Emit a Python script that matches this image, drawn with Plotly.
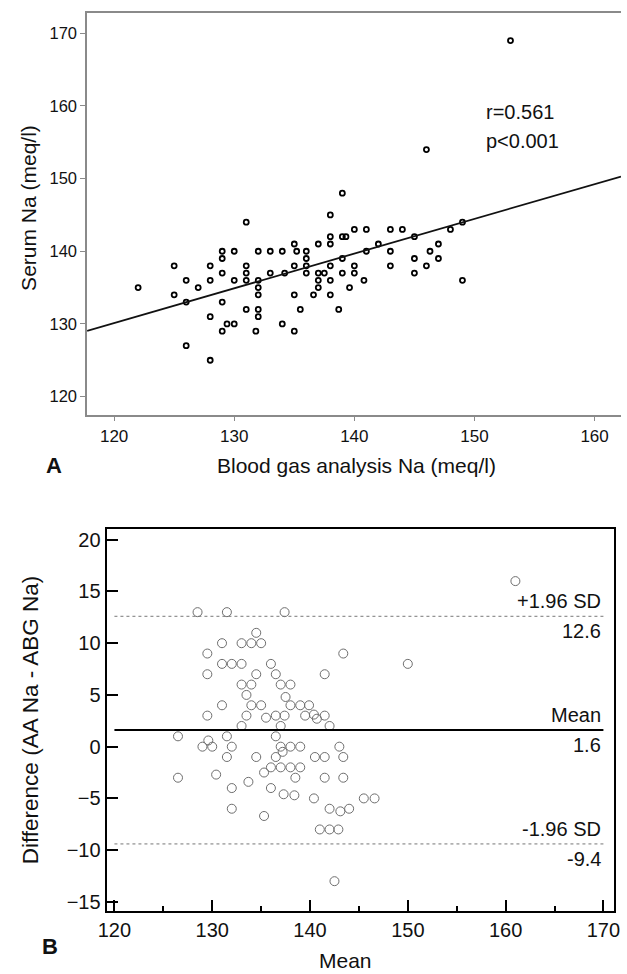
import plotly.graph_objects as go

# panel A: blood gas analyser Na (x) vs serum Na (y), meq/l
abg_na = [131, 135, 137, 129, 130, 132, 133, 134, 135.2, 136, 129, 136,
          125, 128, 131, 135, 136, 129, 131, 133, 134.2, 136, 137, 137.5,
          126, 128, 130, 131, 132, 137, 122, 127, 132, 137, 125, 132, 135, 136.6,
          126, 129, 131, 132, 135.5, 128, 132, 129.4, 130, 134, 129, 131.8, 135,
          126, 128,
          139, 138, 149, 140, 141, 143, 144, 148, 138, 139, 139.3, 145,
          138, 142, 147, 141, 143, 146.3, 139, 145, 147, 138, 140, 143, 146,
          139, 140, 145, 138, 140.8, 149, 139.6, 138, 138.7,
          146, 153]
serum_na = [144, 141, 141, 140, 140, 140, 140, 140, 140, 140, 139, 139,
            138, 138, 138, 138, 138, 137, 137, 137, 137, 137, 137, 137,
            136, 136, 136, 136, 136, 136, 135, 135, 135, 135, 134, 134, 134, 134,
            133, 133, 132, 132, 132, 131, 131, 130, 130, 130, 129, 129, 129,
            127, 125,
            148, 145, 144, 143, 143, 143, 143, 143, 142, 142, 142, 142,
            141, 141, 141, 140, 140, 140, 139, 139, 139, 138, 138, 138, 138,
            137, 137, 137, 136, 136, 136, 135, 134, 132,
            154, 169]
fit_intercept = 72.76
fit_slope = 0.478
r_text = "r=0.561"
p_text = "p<0.001"

# panel B: Bland-Altman, mean vs difference (AA Na - ABG Na)
ba_mean = [128.5, 131.5, 137.4, 134.5, 131, 133, 134, 135, 129.5, 143.4,
           131, 132, 133, 136, 150, 129.5, 134.5, 136.5, 141.5,
           133, 134, 137, 138, 133.5, 137.5,
           131, 134, 135, 138, 139, 139.9,
           129.5, 133.5, 136.5, 137.4, 139.5, 140.4, 140.7, 141.5, 135.5,
           133, 137, 142, 126.5, 131.5, 136.5, 129.6,
           129, 130, 132, 137, 138, 139, 143, 137.2,
           131.5, 134.5, 136.5, 140.5, 141.5, 143.4,
           136, 137, 138, 139, 135.3, 130.4,
           126.5, 138.5, 141.5, 143.4, 133.7, 132, 136, 137.3, 138.4,
           140.4, 145.5, 146.6, 132, 142, 144, 143.1, 135.3,
           141, 142, 142.9, 142.5, 161]
ba_diff = [13, 13, 13, 11, 10, 10, 10, 10, 9, 9,
           8, 8, 8, 8, 8, 7, 7, 7, 7,
           6, 6, 6, 6, 5, 4.8,
           4, 4, 4, 4, 4, 4,
           3, 3, 3, 3, 3, 3.1, 2.7, 3, 2.8,
           2, 2, 2, 1, 1, 1, 0.6,
           0, 0, 0, 0, 0, 0, 0, -0.5,
           -1, -1, -1, -1, -1, -1,
           -2, -2, -2, -2, -2.5, -2.7,
           -3, -3, -3, -3, -3.4, -4, -4, -4.6, -4.7,
           -5, -5, -5, -6, -6, -6, -6.25, -6.7,
           -8, -8, -8, -13, 16]
mean_diff = 1.6
upper_loa = 12.6
lower_loa = -9.4
loa_x = [120, 170]

W, H = 627, 974
FONT = "Arial, Liberation Sans, sans-serif"

def px(x):
    return x / W

def py(y):
    return 1 - y / H

fig = go.Figure()

fig.add_trace(go.Scatter(x=abg_na, y=serum_na, mode="markers",
                         marker=dict(symbol="circle-open", size=5, color="black",
                                     line=dict(width=1.8, color="black")),
                         xaxis="x", yaxis="y", showlegend=False))
xr_a = [117.75, 162.2]
fig.add_trace(go.Scatter(x=xr_a, y=[fit_intercept + fit_slope * v for v in xr_a],
                         mode="lines", line=dict(color="#111", width=1.8),
                         xaxis="x", yaxis="y", showlegend=False))

fig.add_trace(go.Scatter(x=ba_mean, y=ba_diff, mode="markers",
                         marker=dict(symbol="circle-open", size=9, color="#6e6e6e",
                                     line=dict(width=1, color="#6e6e6e")),
                         xaxis="x2", yaxis="y2", showlegend=False))

shapes = [
    dict(type="line", xref="x2", yref="y2", x0=loa_x[0], x1=loa_x[1],
         y0=mean_diff, y1=mean_diff, line=dict(color="black", width=2)),
    dict(type="line", xref="x2", yref="y2", x0=loa_x[0], x1=loa_x[1],
         y0=upper_loa, y1=upper_loa, line=dict(color="#777", width=1, dash="dot")),
    dict(type="line", xref="x2", yref="y2", x0=loa_x[0], x1=loa_x[1],
         y0=lower_loa, y1=lower_loa, line=dict(color="#777", width=1, dash="dot")),
]

ann = []
def note(text, x, y, xref="paper", yref="paper", size=20, xanchor="center",
         yanchor="middle", **kw):
    ann.append(dict(text=text, x=x, y=y, xref=xref, yref=yref, showarrow=False,
                    xanchor=xanchor, yanchor=yanchor,
                    font=dict(family=FONT, size=size, color="#111"), **kw))

note(r_text, 150.8, 159.1, "x", "y", xanchor="left")
note(p_text, 150.8, 155.2, "x", "y", xanchor="left")
note("Blood gas analysis Na (meq/l)", px(356), py(466), size=21)
note("Serum Na (meq/l)", px(20), py(208), size=21, textangle=-90)
note("<b>A</b>", px(46), py(466), size=22)

for lab, val in [("+1.96 SD", upper_loa), ("Mean", mean_diff), ("-1.96 SD", lower_loa)]:
    note(lab, 170, val, "x2", "y2", xanchor="right", yanchor="bottom", yshift=2)
    note("%.1f" % val, 170, val, "x2", "y2", xanchor="right", yanchor="top", yshift=-2)
note("Mean", px(345), py(962), size=21)
note("Difference (AA Na - ABG Na)", px(22), py(721), size=22.5, textangle=-90)
note("<b>B</b>", px(42), py(948), size=22)

gray = "#8a8a8a"
fig.update_layout(
    width=W, height=H, margin=dict(l=0, r=0, t=0, b=0),
    paper_bgcolor="white", plot_bgcolor="white",
    font=dict(family=FONT, color="#111"),
    shapes=shapes, annotations=ann,
    xaxis=dict(domain=[px(80), 1.0], range=xr_a, tickvals=[120, 130, 140, 150, 160],
               showgrid=False, zeroline=False, showline=True, linecolor=gray,
               linewidth=1.5, mirror=True, ticks="outside", ticklen=5,
               tickcolor=gray, tickfont=dict(size=17), anchor="y"),
    yaxis=dict(domain=[py(415), py(12)], range=[117.5, 172.8],
               tickvals=[120, 130, 140, 150, 160, 170],
               showgrid=False, zeroline=False, showline=True, linecolor=gray,
               linewidth=1.5, ticks="outside", ticklen=5, tickcolor=gray,
               tickfont=dict(size=16.5), anchor="x"),
    xaxis2=dict(domain=[px(100), px(620)], range=[119.2, 171.1],
                tickvals=[120, 130, 140, 150, 160, 170],
                showgrid=False, zeroline=False, showline=True, linecolor="black",
                linewidth=2, mirror=True, ticks="inside", ticklen=11, tickwidth=2,
                tickcolor="black", tickfont=dict(size=20),
                minor=dict(ticks="inside", tickvals=[125, 135, 145, 155, 165],
                           ticklen=5, tickwidth=1.5, tickcolor="black"),
                anchor="y2"),
    yaxis2=dict(domain=[py(913), py(530)], range=[-15.9, 21.0],
                tickvals=[-15, -10, -5, 0, 5, 10, 15, 20],
                showgrid=False, zeroline=False, showline=True, linecolor="black",
                linewidth=2, mirror=True, ticks="inside", ticklen=11, tickwidth=2,
                tickcolor="black", tickfont=dict(size=20), anchor="x2"),
)

# page body has a default margin; drop it so the figure fills the window exactly
fig.write_html("out.html", config={"displayModeBar": False},
               post_script="document.body.style.margin='0';document.body.style.overflow='hidden';")
